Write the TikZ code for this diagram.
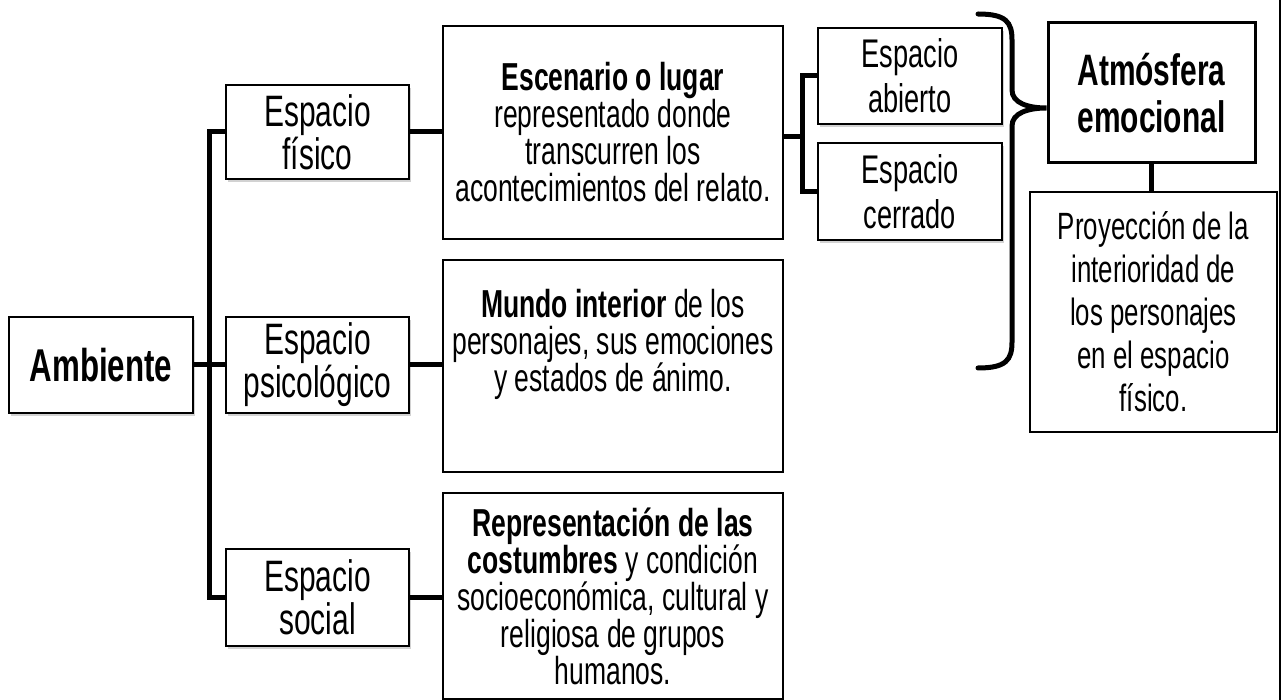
\documentclass[tikz,border=0pt]{standalone}
\usepackage{fontspec}
\setmainfont{Liberation Sans}[FakeStretch=0.68]
\usetikzlibrary{calc,shadows}
\begin{document}
\begin{tikzpicture}[x=1pt,y=-1pt,
    conn/.style={line width=5pt},
    sbox/.style={draw,line width=2pt,fill=white,align=center,inner sep=0pt,
        drop shadow={shadow xshift=2pt,shadow yshift=-3pt,opacity=.35},
        font=\fontsize{44}{43}\selectfont},
    bbox/.style={draw,line width=2pt,fill=white,align=center,inner sep=0pt,
        font=\fontsize{39}{37}\selectfont}]
    % page and its right edge
    \useasboundingbox[fill=white] (0,0) rectangle (1282,700);
    \draw[line width=2pt] (1280,0) -- (1280,700);
    % the root box
    \node[sbox,minimum width=184,minimum height=96,font=\fontsize{46}{44}\selectfont\bfseries]
        (amb) at (101,365) {Ambiente};
    % the three kinds of space
    \node[sbox,minimum width=183,minimum height=94] (fis) at (317.5,132) {Espacio\\físico};
    \node[sbox,minimum width=183,minimum height=96] (psi) at (317.5,365) {Espacio\\psicológico};
    \node[sbox,minimum width=183,minimum height=97] (soc) at (317.5,597.5) {Espacio\\social};
    % their descriptions
    \node[bbox,minimum width=340,minimum height=213] (esc) at (613,132.5)
        {\textbf{Escenario o lugar}\\representado donde\\transcurren los\\acontecimientos del relato.};
    \node[bbox,minimum width=340,minimum height=212] (mun) at (613,366)
        {\textbf{Mundo interior} de los\\personajes, sus emociones\\y estados de ánimo.\\[14pt]};
    \node[bbox,minimum width=340,minimum height=206] (rep) at (613,596)
        {\textbf{Representación de las}\\\textbf{costumbres} y condición\\socioeconómica, cultural y\\religiosa de grupos\\humanos.};
    % open and closed space
    \node[sbox,minimum width=184,minimum height=96,font=\fontsize{40}{45}\selectfont]
        (abi) at (910,76) {Espacio\\abierto};
    \node[sbox,minimum width=184,minimum height=97,font=\fontsize{40}{45}\selectfont]
        (cer) at (910,191.5) {Espacio\\cerrado};
    % emotional atmosphere
    \node[bbox,line width=3pt,minimum width=207,minimum height=140,font=\fontsize{44}{47}\selectfont\bfseries]
        (atm) at (1151.5,93) {Atmósfera\\emocional};
    \node[bbox,line width=2.5pt,minimum width=247,minimum height=240,font=\fontsize{38}{43}\selectfont]
        (proy) at (1153.5,312) {Proyección de la\\interioridad de\\los personajes\\en el espacio\\físico.};
    % connectors
    \coordinate (trunk) at ($(amb.east)!.5!(psi.west)$);
    \draw[conn] (amb.east) -- (psi.west);
    \draw[conn] (fis.west) -| (trunk) |- (soc.west);
    \draw[conn] (fis.east) -- (fis.east -| esc.west);
    \draw[conn] (psi.east) -- (psi.east -| mun.west);
    \draw[conn] (soc.east) -- (soc.east -| rep.west);
    \coordinate (fork) at ($(esc.east |- abi.west)!.5!(cer.west) + (2,3)$);
    \draw[conn] (abi.west) -| (fork) |- (cer.west);
    \draw[conn] (fork) -- (fork -| esc.east);
    \draw[conn] (atm.south) -- (atm.south |- proy.north);
    % the brace
    \coordinate (tip) at ([yshift=-15pt]atm.west);
    \draw[conn,line cap=round] (978,14) .. controls (1006,14) and (1012,22) .. (1012,40)
        -- (1012,90) .. controls (1012,103) and (1028,108) .. (tip)
        .. controls (1028,108) and (1012,113) .. (1012,126)
        -- (1012,342) .. controls (1012,360) and (1006,368) .. (978,368);
\end{tikzpicture}
\end{document}
